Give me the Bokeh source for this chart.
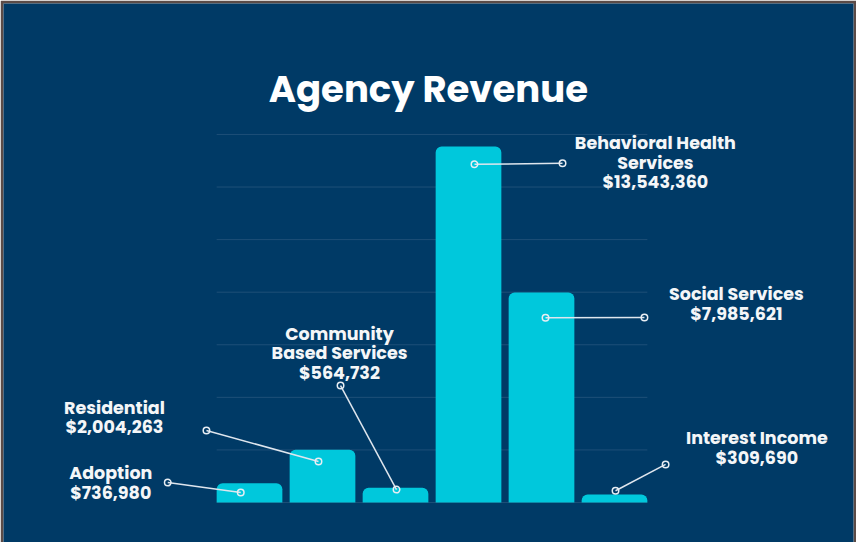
from bokeh.plotting import figure
from bokeh.models import Range1d, ColumnDataSource
from bokeh.core.properties import value
from bokeh.embed import file_html
from bokeh.resources import INLINE

# ---- data ----
categories = ["Adoption", "Residential", "Community Based Services",
              "Behavioral Health Services", "Social Services", "Interest Income"]
values = [736980, 2004263, 564732, 13543360, 7985621, 309690]
label_texts = ["Adoption\n$736,980",
               "Residential\n$2,004,263",
               "Community\nBased Services\n$564,732",
               "Behavioral Health\nServices\n$13,543,360",
               "Social Services\n$7,985,621",
               "Interest Income\n$309,690"]
grid_values = [0, 2e6, 4e6, 6e6, 8e6, 10e6, 12e6, 14e6]

# ---- layout of callouts (offsets relative to each bar) ----
anchor_dx = [-0.12, -0.055, 0.014, 0.082, 0.055, 0.014]
anchor_frac = [0.52, 0.78, 0.87, 0.95, 0.88, 1.45]
elbow_dx = [-1.12, -1.59, -0.753, 1.288, 1.41, 0.70]
elbow_y = [0.76e6, 2.74e6, 4.45e6, 12.9e6, 7.04e6, 1.45e6]
text_dx = [-1.90, -2.85, -0.767, 2.56, 2.67, 1.95]
text_y = [0.74e6, 3.23e6, 5.67e6, 12.93e6, 7.55e6, 2.07e6]

NAVY = "#003a66"
BAR = "#00c8dc"
FONT = "Poppins, Open Sans"

p = figure(width=856, height=542, output_backend="svg", toolbar_location=None,
           x_axis_location=None, y_axis_location=None,
           x_range=Range1d(-3.37, 8.274), y_range=Range1d(-1.52e6, 18.98e6),
           min_border_left=3, min_border_top=3, min_border_right=3, min_border_bottom=0,
           background_fill_color=NAVY, border_fill_color="#5b4b47",
           outline_line_color=None)
p.grid.visible = False

xs = list(range(len(categories)))

# gridlines
p.segment(x0=[-0.45] * len(grid_values), x1=[5.45] * len(grid_values),
          y0=grid_values, y1=grid_values, line_color="#1d4f78", line_width=1)

# bars
src = ColumnDataSource(dict(x=xs, top=values, cat=categories))
p.vbar(x="x", top="top", bottom=0, width=0.9, source=src,
       fill_color=BAR, line_color=None, border_radius=(6, 6, 0, 0))

# callouts
ax = [x + d for x, d in zip(xs, anchor_dx)]
ay = [v * f for v, f in zip(values, anchor_frac)]
ex = [x + d for x, d in zip(xs, elbow_dx)]
tx = [x + d for x, d in zip(xs, text_dx)]
p.segment(x0=ax, y0=ay, x1=ex, y1=elbow_y, line_color="#dfe6ee", line_width=1.5)
p.scatter(x=ax + ex, y=ay + elbow_y, marker="circle", size=6.5,
          line_color="#e8eef4", line_width=1.5, fill_color=None)

p.text(x=tx, y=text_y, text=label_texts, text_color="#f4f6f8",
       text_font=value(FONT), text_font_style="bold", text_font_size="17.5px",
       text_align="center", text_baseline="middle", text_line_height=0.81)

# title
p.text(x=[2.45], y=[15.71e6], text=["Agency Revenue"], text_color="white",
       text_font=value(FONT), text_font_style="bold", text_font_size="37px",
       text_align="center", text_baseline="middle")

open("out.html", "w").write(file_html(p, INLINE))
